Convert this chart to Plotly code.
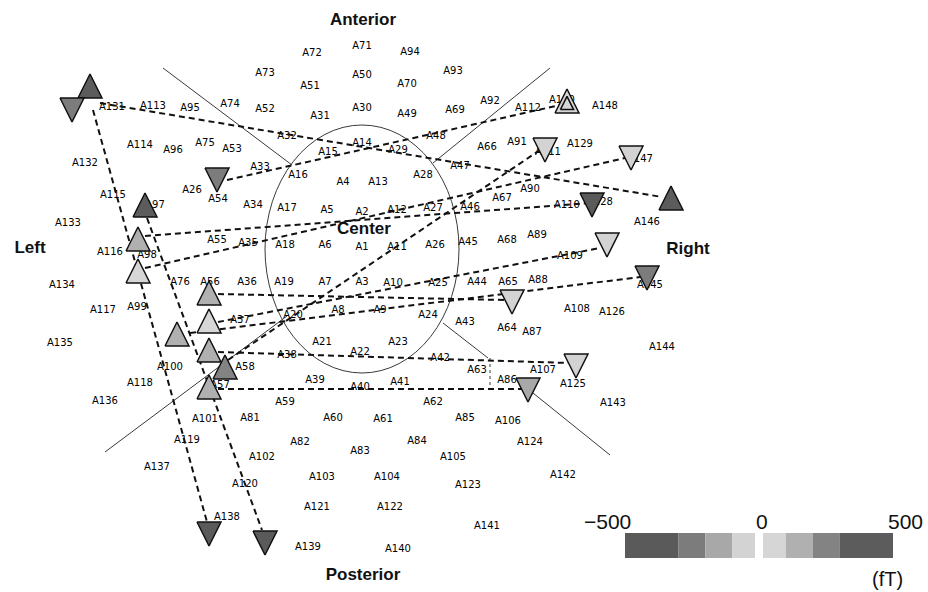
import plotly.graph_objects as go

# ---------------- data ----------------
sensor_names = ["A72","A71","A94","A73","A50","A93","A51","A70",
    "A131","A113","A95","A74","A52","A31","A30","A49","A69","A92","A112","A130","A148",
    "A32","A48","A114","A96","A75","A53","A15","A14","A29","A66","A91","A111","A129","A147",
    "A132","A33","A16","A4","A13","A28","A47",
    "A26","A54","A115","A97","A34","A17","A5","A2","A12","A27","A46","A67","A90","A110","A128","A146",
    "A133","A55","A35","A18","A6","A1","A11","A26","A45","A68","A89","A109","A116","A98",
    "A134","A76","A56","A36","A19","A7","A3","A10","A25","A44","A65","A88","A145",
    "A117","A99","A37","A20","A8","A9","A24","A43","A64","A87","A108","A126",
    "A135","A21","A23","A144","A22","A38","A42","A100","A58","A63","A107",
    "A118","A39","A41","A40","A57","A86","A125",
    "A136","A59","A62","A143","A101","A81","A60","A61","A85","A106",
    "A119","A82","A84","A124","A83","A105","A102",
    "A137","A142","A103","A104","A120","A123",
    "A121","A122","A138","A141","A139","A140"]
sensor_x = [312,362,410,265,362,453,310,407,
    112,153,190,230,265,320,362,407,455,490,528,562,605,
    287,436,140,173,205,232,328,362,398,487,517,548,580,640,
    85,260,298,343,378,423,460,
    192,218,113,155,253,287,327,362,397,433,470,502,530,567,600,647,
    68,217,248,285,325,362,397,435,468,507,537,570,110,147,
    62,180,210,247,284,325,362,393,438,477,508,538,650,
    103,137,240,293,338,380,428,465,507,532,577,612,
    60,322,398,662,360,287,440,170,245,477,543,
    140,315,400,360,220,507,573,
    105,285,433,613,205,250,333,383,465,508,
    187,300,417,530,360,453,262,
    157,563,322,387,245,468,
    317,390,227,487,308,398]
sensor_y = [53,46,52,73,75,71,86,84,
    107,106,108,104,109,116,108,114,110,101,108,100,106,
    136,136,145,150,143,149,152,143,150,147,142,152,144,159,
    163,167,175,182,182,175,166,
    190,199,195,205,205,208,210,212,210,208,207,198,189,205,202,222,
    223,240,243,245,245,247,247,245,242,240,235,256,252,255,
    285,282,282,282,282,282,282,283,283,282,282,280,285,
    310,307,320,315,310,310,315,322,328,332,309,312,
    343,342,342,347,352,355,358,367,367,370,370,
    383,380,382,387,385,380,384,
    401,402,402,403,419,418,418,419,418,421,
    440,442,441,442,451,457,457,
    467,475,477,477,484,485,
    507,507,517,526,547,549]

region_names = ["Anterior", "Posterior", "Left", "Right", "Center"]
region_x = [363, 363, 30, 688, 364]
region_y = [21, 576, 249, 250, 230]

# field peaks (fT): + = outgoing (up triangle), - = ingoing (down triangle)
tri_x = [90,72,145,138,138,217,567,545,631,592,671,607,647,512,576,528,209,209,177,209,225,209,209,265]
tri_y = [86,110,205,239,271,180,101,150,158,205,198,245,278,302,366,390,293,321,334,350,367,387,534,543]
tri_val = [400,-250,350,150,80,-250,50,-80,-80,-350,350,-60,-250,-80,-90,-150,150,80,150,150,300,120,-400,-400]
tri_double = [6]  # index of the doubled-outline triangle

# dashed links between paired sensors
link_x0 = [100,93,147,145,145,227,228,218,218,190,218,218]
link_y0 = [103,110,218,236,268,180,360,294,322,333,352,389]
link_x1 = [662,207,262,590,625,560,540,505,600,640,568,522]
link_y1 = [197,522,530,203,158,105,150,300,248,277,363,389]

# region boundary lines
bound_x0 = [163,550,105,443,533]
bound_y0 = [68,68,452,323,393]
bound_x1 = [292,433,287,488,610]
bound_y1 = [165,163,316,358,455]
dotted_x = [490,490]
dotted_y = [358,388]

# central ellipse
ell_cx, ell_cy, ell_rx, ell_ry = 362, 249, 97, 124

# colour scale bins (fT)
cbar_lo = [-500,-300,-200,-100,15,100,200,300]
cbar_hi = [-300,-200,-100,-15,100,200,300,500]
cbar_col = ["#5a5a5a","#7c7c7c","#a8a8a8","#d3d3d3","#d6d6d6","#b0b0b0","#838383","#5c5c5c"]
cbar_tickvals = [-500, 0, 500]
cbar_ticktext = ["\u2212500", "0", "500"]
unit_text = "(fT)"

def shade(v):
    for lo, hi, c in zip(cbar_lo, cbar_hi, cbar_col):
        if lo <= v <= hi:
            return c
    return "#d3d3d3"

# ---------------- figure ----------------
fig = go.Figure()

for x0, y0, x1, y1 in zip(bound_x0, bound_y0, bound_x1, bound_y1):
    fig.add_trace(go.Scatter(x=[x0, x1], y=[y0, y1], mode="lines",
                             line=dict(color="#3a3a3a", width=1), hoverinfo="skip"))
fig.add_trace(go.Scatter(x=dotted_x, y=dotted_y, mode="lines",
                         line=dict(color="#3a3a3a", width=1, dash="dot"), hoverinfo="skip"))

fig.add_shape(type="circle", xref="x", yref="y",
              x0=ell_cx - ell_rx, x1=ell_cx + ell_rx, y0=ell_cy - ell_ry, y1=ell_cy + ell_ry,
              line=dict(color="#3a3a3a", width=1), layer="below")

# sensor labels
fig.add_trace(go.Scatter(x=sensor_x, y=sensor_y, text=sensor_names, mode="text",
                         textfont=dict(family="DejaVu Sans", size=10, color="#000000"),
                         hoverinfo="skip"))

# dashed links
lx, ly = [], []
for x0, y0, x1, y1 in zip(link_x0, link_y0, link_x1, link_y1):
    lx += [x0, x1, None]
    ly += [y0, y1, None]
fig.add_trace(go.Scatter(x=lx, y=ly, mode="lines",
                         line=dict(color="#111111", width=2, dash="6px,4px"), hoverinfo="skip"))

# triangles
W, H = 24, 24
for i, (cx, cy, v) in enumerate(zip(tri_x, tri_y, tri_val)):
    if v >= 0:
        px = [cx - W/2, cx + W/2, cx, cx - W/2]
        py = [cy + H/2, cy + H/2, cy - H/2, cy + H/2]
    else:
        px = [cx - W/2, cx + W/2, cx, cx - W/2]
        py = [cy - H/2, cy - H/2, cy + H/2, cy - H/2]
    fig.add_trace(go.Scatter(x=px, y=py, mode="lines", fill="toself",
                             fillcolor=shade(v), line=dict(color="#111111", width=1.5),
                             hoverinfo="skip"))
    if i in tri_double:
        s = 0.55
        ix = [cx + (p - cx) * s for p in px]
        iy = [cy + 2 + (p - cy) * s for p in py]
        fig.add_trace(go.Scatter(x=ix, y=iy, mode="lines",
                                 line=dict(color="#111111", width=1.5), hoverinfo="skip"))

# region titles
fig.add_trace(go.Scatter(x=region_x, y=region_y, text=["<b>%s</b>" % t for t in region_names],
                         mode="text", textfont=dict(family="Liberation Sans", size=17, color="#111111"),
                         hoverinfo="skip"))

# colour bar
fig.add_trace(go.Bar(y=[0]*len(cbar_lo), x=[h - l for l, h in zip(cbar_lo, cbar_hi)], base=cbar_lo,
                     orientation="h", marker=dict(color=cbar_col, line=dict(width=0)),
                     width=1, xaxis="x2", yaxis="y2", hoverinfo="skip"))

annotations = []
tick_anchor = ["right", "center", "left"]
tick_shift = [8, 3, -7]
for v, t, a, s in zip(cbar_tickvals, cbar_ticktext, tick_anchor, tick_shift):
    annotations.append(dict(x=v, y=521, xref="x2", yref="y", text=t, showarrow=False,
                            xanchor=a, xshift=s,
                            font=dict(family="Liberation Sans", size=21, color="#111111")))
annotations.append(dict(x=887, y=579, xref="x", yref="y", text=unit_text, showarrow=False,
                        font=dict(family="Liberation Sans", size=20, color="#111111")))

fig.update_layout(
    width=928, height=592, autosize=False,
    margin=dict(l=0, r=0, t=0, b=0),
    paper_bgcolor="white", plot_bgcolor="white",
    showlegend=False, barmode="overlay",
    xaxis=dict(range=[0, 928], domain=[0, 1], visible=False, fixedrange=True),
    yaxis=dict(range=[592, 0], domain=[0, 1], visible=False, fixedrange=True),
    xaxis2=dict(range=[-500, 500], domain=[625/928, 893/928], anchor="y2", visible=False),
    yaxis2=dict(range=[-0.5, 0.5], domain=[(592-558)/592, (592-533)/592], anchor="x2", visible=False),
    annotations=annotations,
)

fig.write_html("out.html", config={"displayModeBar": False},
               post_script="document.body.style.margin='0px';document.body.style.overflow='hidden';")
